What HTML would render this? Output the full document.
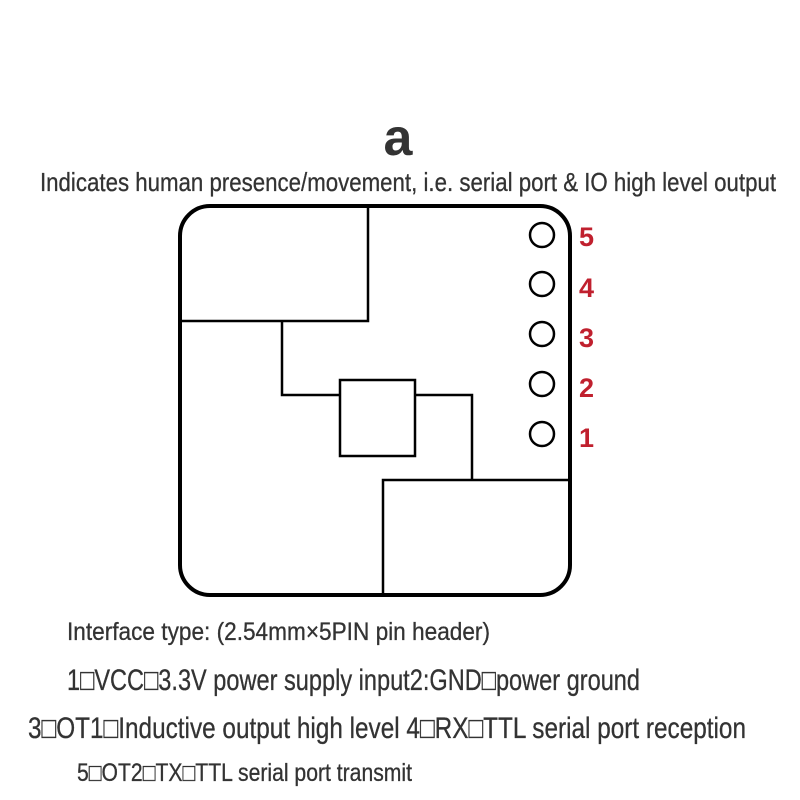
<!DOCTYPE html>
<html><head><meta charset="utf-8"><style>
html,body{margin:0;padding:0;background:#fff;width:800px;height:800px;overflow:hidden}
</style></head><body>
<svg width="800" height="800" viewBox="0 0 800 800" xmlns="http://www.w3.org/2000/svg" font-family="'Liberation Sans', sans-serif">
<rect width="800" height="800" fill="#fff"/>
<text x="398" y="155" font-size="52" font-weight="bold" fill="#333" text-anchor="middle">a</text>
<text x="40" y="191" font-size="26" fill="#333" stroke="#333" stroke-width="0.3" textLength="736" lengthAdjust="spacingAndGlyphs">Indicates human presence/movement, i.e. serial port &amp; IO high level output</text>
<g fill="none" stroke="#000" stroke-width="4">
<rect x="180" y="206" width="390" height="389" rx="30"/>
</g>
<g fill="none" stroke="#000" stroke-width="2.5">
<path d="M368 206 V321 H180"/>
<path d="M282 321 V395 H340"/>
<rect x="340" y="380" width="75" height="76"/>
<path d="M415 395 H472 V480"/>
<path d="M570 480 H383 V595"/>
<circle cx="542" cy="235" r="12"/>
<circle cx="542" cy="284" r="12"/>
<circle cx="542" cy="334" r="12"/>
<circle cx="542" cy="384" r="12"/>
<circle cx="542" cy="434" r="12"/>
</g>
<g fill="#c0202e" font-size="27" font-weight="bold">
<text x="579" y="246">5</text>
<text x="579" y="297">4</text>
<text x="579" y="347">3</text>
<text x="579" y="397">2</text>
<text x="579" y="447">1</text>
</g>
<g fill="#333" stroke="#333" stroke-width="0.3">
<text x="67" y="640" font-size="25" textLength="423" lengthAdjust="spacingAndGlyphs">Interface type: (2.54mm×5PIN pin header)</text>
<text x="67" y="690" font-size="30" textLength="573" lengthAdjust="spacingAndGlyphs">1□VCC□3.3V power supply input2:GND□power ground</text>
<text x="28" y="738" font-size="30" textLength="718" lengthAdjust="spacingAndGlyphs">3□OT1□Inductive output high level 4□RX□TTL serial port reception</text>
<text x="77" y="781" font-size="25" textLength="335" lengthAdjust="spacingAndGlyphs">5□OT2□TX□TTL serial port transmit</text>
</g>
</svg>
</body></html>
